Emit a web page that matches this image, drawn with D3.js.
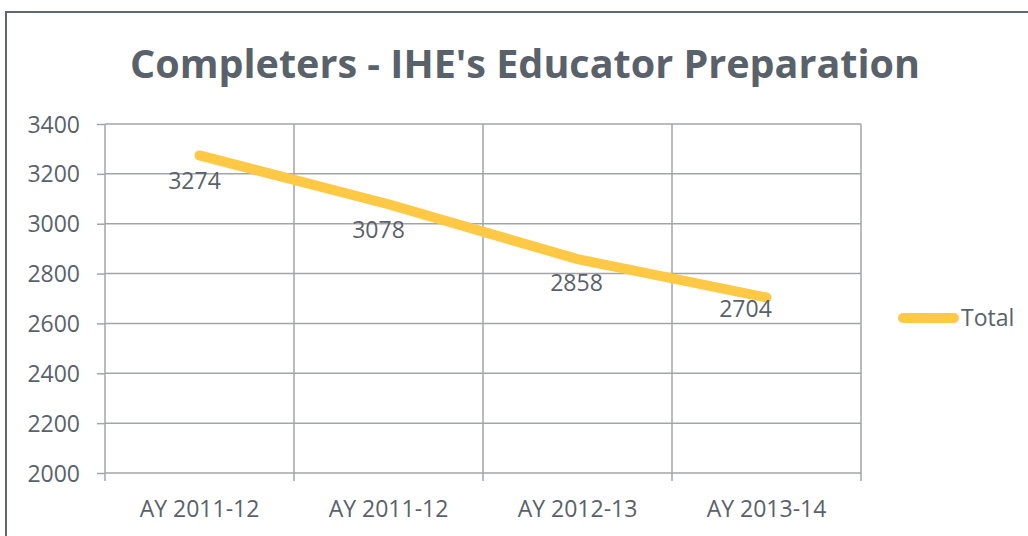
<!doctype html>
<html lang="en">
<head>
<meta charset="utf-8">
<title>Completers - IHE's Educator Preparation</title>
<script src="https://cdn.jsdelivr.net/npm/d3@7"></script>
<style>
  body { margin: 0; background: #fff; }
  svg text { font-family: "Open Sans", sans-serif; fill: #59626b; }
</style>
</head>
<body>
<div id="chart"></div>
<script>
// chart data
var categories = ["AY 2011-12", "AY 2011-12 ", "AY 2012-13", "AY 2013-14"];
var totals = [3274, 3078, 2858, 2704];
var yTicks = [2000, 2200, 2400, 2600, 2800, 3000, 3200, 3400];
var seriesName = "Total";

var width = 1028, height = 536;
var svg = d3.select("#chart").append("svg")
    .attr("width", width)
    .attr("height", height);

// outer frame (runs off the right / bottom edge in the original)
svg.append("path")
    .attr("d", "M6,536V12H1028")
    .attr("fill", "none")
    .attr("stroke", "#5f666e")
    .attr("stroke-width", 2);

svg.append("text")
    .attr("x", 525)
    .attr("y", 78)
    .attr("text-anchor", "middle")
    .attr("textLength", 790)
    .attr("lengthAdjust", "spacingAndGlyphs")
    .style("font-size", "39px")
    .style("font-weight", "bold")
    .text("Completers - IHE's Educator Preparation");

var plot = { left: 105, right: 861, top: 124, bottom: 473 };

var x = d3.scaleBand().domain(categories).range([plot.left, plot.right]);
var y = d3.scaleLinear().domain([2000, 3400]).range([plot.bottom, plot.top]);

var gridColor = "#a2a5a8";
var fontSize = "23px";

// y axis ticks + labels
var yAxis = svg.append("g")
    .attr("transform", "translate(" + plot.left + ",0)")
    .call(d3.axisLeft(y).tickValues(yTicks).tickSize(8).tickFormat(d3.format("d")));
yAxis.select(".domain").remove();
yAxis.selectAll(".tick line").attr("stroke", gridColor).attr("stroke-width", 1.5);
yAxis.selectAll(".tick text")
    .attr("x", -25)
    .attr("dy", "0.35em")
    .style("font-size", fontSize)
    .style("fill", "#59626b");

// horizontal gridlines
svg.append("g").selectAll("line")
    .data(yTicks)
    .enter().append("line")
    .attr("x1", plot.left)
    .attr("x2", plot.right)
    .attr("y1", function(d) { return y(d); })
    .attr("y2", function(d) { return y(d); })
    .attr("stroke", gridColor)
    .attr("stroke-width", 1.5);

// vertical gridlines at category boundaries
var bounds = categories.map(function(c) { return x(c); }).concat([plot.right]);
svg.append("g").selectAll("line")
    .data(bounds)
    .enter().append("line")
    .attr("x1", function(d) { return d; })
    .attr("x2", function(d) { return d; })
    .attr("y1", plot.top)
    .attr("y2", plot.bottom + 8)
    .attr("stroke", gridColor)
    .attr("stroke-width", 1.5);

// x labels
svg.append("g").selectAll("text")
    .data(categories)
    .enter().append("text")
    .attr("x", function(d) { return x(d) + x.bandwidth() / 2; })
    .attr("y", 517)
    .attr("text-anchor", "middle")
    .style("font-size", fontSize)
    .text(function(d) { return d.trim(); });

// the line
var line = d3.line()
    .x(function(d, i) { return x(categories[i]) + x.bandwidth() / 2; })
    .y(function(d) { return y(d); });

svg.append("path")
    .datum(totals)
    .attr("d", line)
    .attr("fill", "none")
    .attr("stroke", "#ffc845")
    .attr("stroke-width", 10)
    .attr("stroke-linecap", "round")
    .attr("stroke-linejoin", "round");

// data labels, nudged like the hand-placed ones in the original
var labelDx = [-5, -10, -1, -21];
var labelDy = [26, 26, 24, 11];
svg.append("g").selectAll("text")
    .data(totals)
    .enter().append("text")
    .attr("x", function(d, i) { return x(categories[i]) + x.bandwidth() / 2 + labelDx[i]; })
    .attr("y", function(d, i) { return y(d) + labelDy[i]; })
    .attr("dy", "0.35em")
    .attr("text-anchor", "middle")
    .style("font-size", fontSize)
    .text(function(d) { return d; });

// legend
svg.append("line")
    .attr("x1", 903).attr("x2", 954)
    .attr("y1", 318).attr("y2", 318)
    .attr("stroke", "#ffc845")
    .attr("stroke-width", 10)
    .attr("stroke-linecap", "round");
svg.append("text")
    .attr("x", 961)
    .attr("y", 318)
    .attr("dy", "0.35em")
    .style("font-size", fontSize)
    .text(seriesName);
</script>
</body>
</html>
